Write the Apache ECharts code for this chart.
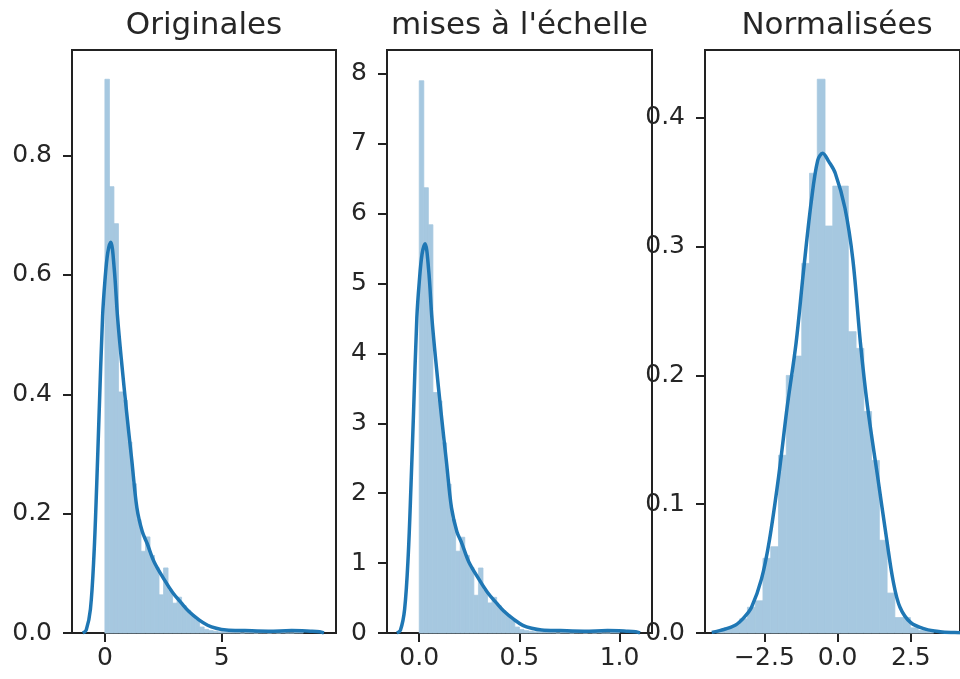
<!DOCTYPE html>
<html>
<head>
<meta charset="utf-8">
<script src="https://cdn.jsdelivr.net/npm/echarts@6/dist/echarts.min.js"></script>
<style>
  html, body { margin: 0; background: #fff; }
  #main { width: 960px; height: 679px; }
</style>
</head>
<body>
<div id="main"></div>
<script>
// panel titles
const titles = ["Originales", "mises à l'échelle", "Normalisées"];

// Originales : histogram (equal bins from 0) + KDE
const origBinStart = 0;
const origBinWidth = 0.1932;
const origHeights = [0.928, 0.748, 0.686, 0.404, 0.39, 0.32, 0.25, 0.19, 0.137, 0.161,
  0.13, 0.11, 0.064, 0.109, 0.072, 0.05, 0.06, 0.046, 0.038, 0.03,
  0.022, 0.01, 0.006, 0.004, 0.003, 0.002, 0.002, 0.001, 0.001, 0.001,
  0, 0.001, 0.001, 0, 0.001, 0.001, 0, 0.001, 0, 0.001, 0, 0, 0.001, 0.001];
const origKdeX = [-0.95, -0.8, -0.62, -0.47, -0.35, -0.25, -0.1, 0.0, 0.12, 0.25,
  0.4, 0.54, 0.7, 0.93, 1.15, 1.37, 1.6, 1.81, 2.1, 2.55,
  2.9, 3.28, 3.6, 4.03, 4.4, 4.77, 5.2, 6.0, 7.0, 8.0, 8.8, 9.2, 9.38];
const origKdeY = [0, 0.005, 0.04, 0.13, 0.25, 0.366, 0.53, 0.59, 0.637, 0.655,
  0.61, 0.53, 0.46, 0.37, 0.29, 0.21, 0.17, 0.15, 0.12, 0.089,
  0.068, 0.05, 0.036, 0.022, 0.013, 0.008, 0.005, 0.004, 0.003, 0.004, 0.003, 0.002, 0];
const origXTicks = [0, 5];
const origXLabels = ["0", "5"];
const origYTicks = [0, 0.2, 0.4, 0.6, 0.8];
const origYLabels = ["0.0", "0.2", "0.4", "0.6", "0.8"];

// mises à l'échelle
const scaledBinStart = 0;
const scaledBinWidth = 0.02273;
const scaledHeights = [7.9, 6.37, 5.84, 3.44, 3.32, 2.72, 2.13, 1.62, 1.17, 1.37,
  1.11, 0.94, 0.54, 0.93, 0.61, 0.43, 0.51, 0.39, 0.32, 0.26,
  0.19, 0.085, 0.05, 0.034, 0.026, 0.017, 0.017, 0.009, 0.009, 0.009,
  0, 0.009, 0.009, 0, 0.009, 0.009, 0, 0.009, 0, 0.009, 0, 0, 0.009, 0.009];
const scaledKdeX = [-0.112, -0.094, -0.073, -0.055, -0.041, -0.029, -0.012, 0, 0.014, 0.029,
  0.047, 0.063, 0.082, 0.109, 0.135, 0.161, 0.188, 0.213, 0.247, 0.3,
  0.341, 0.385, 0.423, 0.474, 0.517, 0.561, 0.611, 0.705, 0.823, 0.94, 1.034, 1.081, 1.102];
const scaledKdeY = [0, 0.04, 0.34, 1.11, 2.13, 3.11, 4.51, 5.02, 5.42, 5.57,
  5.19, 4.51, 3.91, 3.15, 2.47, 1.79, 1.45, 1.28, 1.02, 0.76,
  0.58, 0.43, 0.31, 0.19, 0.11, 0.068, 0.043, 0.034, 0.026, 0.034, 0.026, 0.017, 0];
const scaledXTicks = [0, 0.5, 1];
const scaledXLabels = ["0.0", "0.5", "1.0"];
const scaledYTicks = [0, 1, 2, 3, 4, 5, 6, 7, 8];
const scaledYLabels = ["0", "1", "2", "3", "4", "5", "6", "7", "8"];

// Normalisées
const normBinStart = -4.14;
const normBinWidth = 0.265;
const normHeights = [0.002, 0.004, 0.006, 0.011, 0.02, 0.025, 0.058, 0.067, 0.138, 0.2,
  0.215, 0.287, 0.357, 0.43, 0.316, 0.347, 0.347, 0.234, 0.221, 0.172,
  0.134, 0.072, 0.031, 0.012, 0.012, 0.004, 0.002, 0.001];
const normKdeX = [-4.3, -4.0, -3.5, -3.2, -2.94, -2.6, -2.33, -2.0, -1.72, -1.42,
  -1.17, -0.9, -0.68, -0.51, -0.3, -0.08, 0.25, 0.52, 0.78, 1.02,
  1.35, 1.68, 1.9, 2.13, 2.5, 3.0, 3.5, 4.0, 4.3];
const normKdeY = [0.0005, 0.002, 0.006, 0.012, 0.02, 0.042, 0.072, 0.124, 0.176, 0.225,
  0.28, 0.335, 0.367, 0.3725, 0.366, 0.357, 0.33, 0.29, 0.225, 0.176,
  0.124, 0.072, 0.04, 0.02, 0.008, 0.003, 0.001, 0.0003, 0.0001];
const normXTicks = [-2.5, 0, 2.5];
const normXLabels = ["\u22122.5", "0.0", "2.5"];
const normYTicks = [0, 0.1, 0.2, 0.3, 0.4];
const normYLabels = ["0.0", "0.1", "0.2", "0.3", "0.4"];

const chart = echarts.init(document.getElementById('main'));
const font = 'DejaVu Sans';
const ink = '#262626';
const barFill = '#a6c8e0';

function histData(start, width, heights) {
  return heights.map((h, i) => [start + i * width, start + (i + 1) * width, h]);
}

function renderBar(params, api) {
  const top = api.coord([api.value(0), api.value(2)]);
  const base = api.coord([api.value(1), 0]);
  return {
    type: 'rect',
    shape: { x: top[0], y: top[1], width: base[0] - top[0], height: base[1] - top[1] },
    // thin stroke of the same colour hides the hairline seams between bins
    style: { fill: barFill, stroke: barFill, lineWidth: 0.8 }
  };
}

const panels = [
  { left: 72, right: 624, xMin: -1.41, xMax: 9.9, yMax: 0.977,
    bins: histData(origBinStart, origBinWidth, origHeights),
    kde: origKdeX.map((x, i) => [x, origKdeY[i]]),
    xt: origXTicks, xl: origXLabels, yt: origYTicks, yl: origYLabels },
  { left: 387, right: 308, xMin: -0.161, xMax: 1.162, yMax: 8.34,
    bins: histData(scaledBinStart, scaledBinWidth, scaledHeights),
    kde: scaledKdeX.map((x, i) => [x, scaledKdeY[i]]),
    xt: scaledXTicks, xl: scaledXLabels, yt: scaledYTicks, yl: scaledYLabels },
  { left: 705, right: -9, xMin: -4.53, xMax: 4.18, yMax: 0.4527,
    bins: histData(normBinStart, normBinWidth, normHeights),
    kde: normKdeX.map((x, i) => [x, normKdeY[i]]),
    xt: normXTicks, xl: normXLabels, yt: normYTicks, yl: normYLabels }
];

const tickStyle = { show: true, length: 9, lineStyle: { color: '#222', width: 2 } };
const labelStyle = { color: ink, fontSize: 25, fontFamily: font };

const option = {
  animation: false,
  backgroundColor: '#fff',
  grid: panels.map(p => ({
    left: p.left, right: p.right, top: 50, bottom: 46,
    show: true, borderColor: '#222', borderWidth: 2, backgroundColor: 'transparent'
  })),
  xAxis: panels.map((p, i) => ({
    type: 'value', gridIndex: i, min: p.xMin, max: p.xMax,
    splitLine: { show: false }, axisLine: { show: false, onZero: false },
    axisTick: Object.assign({ customValues: p.xt }, tickStyle),
    axisLabel: Object.assign({ customValues: p.xt, margin: 13,
      formatter: v => p.xl[p.xt.indexOf(v)] }, labelStyle)
  })),
  yAxis: panels.map((p, i) => ({
    type: 'value', gridIndex: i, min: 0, max: p.yMax,
    splitLine: { show: false }, axisLine: { show: false, onZero: false },
    axisTick: Object.assign({ customValues: p.yt }, tickStyle),
    axisLabel: Object.assign({ customValues: p.yt, margin: 20,
      formatter: v => p.yl[p.yt.indexOf(v)] }, labelStyle)
  })),
  series: panels.flatMap((p, i) => [
    { type: 'custom', xAxisIndex: i, yAxisIndex: i, renderItem: renderBar,
      encode: { x: [0, 1], y: 2 }, data: p.bins, z: 1 },
    { type: 'line', xAxisIndex: i, yAxisIndex: i, data: p.kde, showSymbol: false,
      smooth: 0.35, lineStyle: { color: '#1f77b4', width: 3.5 }, z: 2 }
  ]),
  graphic: panels.map((p, i) => ({
    type: 'text',
    x: p.left + (960 - p.right - p.left) / 2,
    y: 26,
    style: { text: titles[i], fill: ink, fontSize: 31, fontFamily: font,
      textAlign: 'center', textVerticalAlign: 'middle' }
  }))
};

chart.setOption(option);
</script>
</body>
</html>
